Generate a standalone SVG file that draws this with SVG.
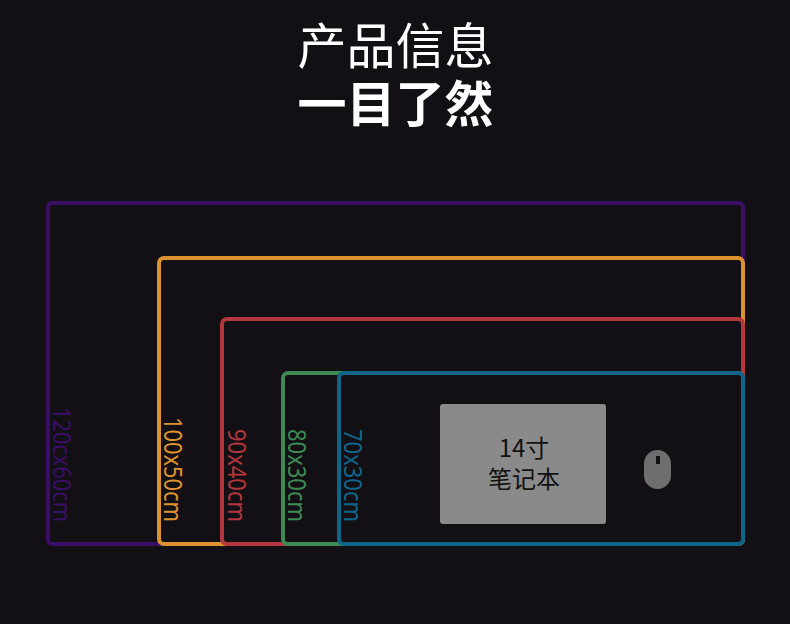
<svg xmlns="http://www.w3.org/2000/svg" width="790" height="624" viewBox="0 0 790 624">
<style>
.f{fill:#121014;stroke-width:4}
.t{font-family:"Noto Sans CJK SC","Noto Sans",sans-serif}
.l{font-family:"Noto Sans","Noto Sans CJK SC",sans-serif;font-size:24.500px;font-weight:400}
.h{font-size:49px;fill:#fff;text-anchor:middle}
.n{font-size:24px;fill:#111;text-anchor:middle}
</style>
<rect width="790" height="624" fill="#121014"/>
<g id="title"><text class="t h" x="395.500" y="64">产品信息</text><text class="t h" x="395.500" y="122" font-weight="700">一目了然</text></g>
<g id="connectors"/>
<g id="size-120x60"><rect class="f" x="48" y="203" width="695" height="341" rx="4" stroke="#3a0e66"/><text class="l" transform="translate(53 407) rotate(90)" fill="#3a0e66" textLength="115" lengthAdjust="spacingAndGlyphs">120cx60cm</text></g>
<g id="size-100x50"><rect class="f" x="159" y="258" width="584" height="286" rx="5" stroke="#dd9230"/><text class="l" transform="translate(164 417) rotate(90)" fill="#dd9230" textLength="105" lengthAdjust="spacingAndGlyphs">100x50cm</text></g>
<g id="size-90x40"><rect class="f" x="222" y="319" width="521" height="225" rx="5" stroke="#b3373d"/><text class="l" transform="translate(228 429) rotate(90)" fill="#b3373d" textLength="93" lengthAdjust="spacingAndGlyphs">90x40cm</text></g>
<g id="size-80x30"><rect class="f" x="283" y="373" width="460" height="171" rx="5" stroke="#3d8a55"/><text class="l" transform="translate(288 429) rotate(90)" fill="#3d8a55" textLength="93" lengthAdjust="spacingAndGlyphs">80x30cm</text></g>
<g id="size-70x30"><rect class="f" x="339" y="373" width="404" height="171" rx="5" stroke="#10668a"/><text class="l" transform="translate(344 429) rotate(90)" fill="#10668a" textLength="93" lengthAdjust="spacingAndGlyphs">70x30cm</text></g>
<g id="laptop"><rect x="440" y="404" width="166" height="120" rx="3" fill="#8a8a8a"/><text class="t n" x="524" y="457">14寸</text><text class="t n" x="524" y="488">笔记本</text></g>
<g id="mouse"><rect x="644" y="450" width="27" height="39" rx="13.500" fill="#6e6d70"/><rect x="656" y="456" width="4" height="8" fill="#121014"/></g>
</svg>
